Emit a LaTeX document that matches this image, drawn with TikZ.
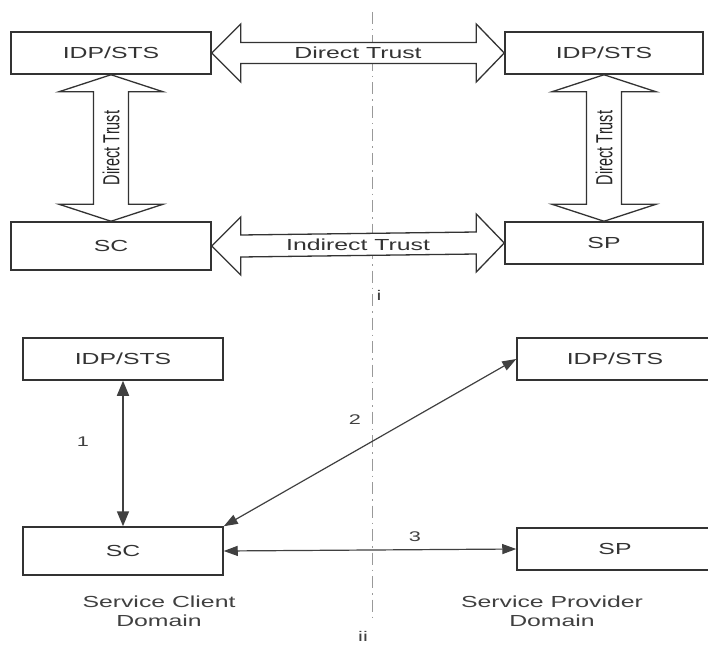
\documentclass[tikz,border=0pt]{standalone}
\usepackage{fontspec}
\setmainfont{Liberation Sans}[FakeStretch=1.55]
\newfontfamily\plainsans{Liberation Sans}
\usetikzlibrary{arrows.meta,calc}
\tikzset{
  box/.style={draw=black!80, line width=1.5pt, fill=white, inner sep=0pt,
    font=\fontsize{16}{18}\selectfont, text=black!80},
  barrow/.style={draw=black!80, line width=1.3pt, fill=white, line join=miter},
  btext/.style={font=\fontsize{16}{18}\selectfont, text=black!80, inner sep=0pt},
  vtext/.style={font=\plainsans\fontsize{14.5}{16}\selectfont, text=black!85, inner sep=0pt, rotate=90},
  num/.style={font=\fontsize{14}{16}\selectfont, text=black!75, inner sep=0pt},
  conn/.style={draw=black!75, line width=1.2pt, {Triangle[length=14pt,width=10pt]}-{Triangle[length=14pt,width=10pt]}},
  divider/.style={draw=black!40, line width=1pt, dash pattern=on 12pt off 5pt on 1.5pt off 5pt}
}
\begin{document}
\begin{tikzpicture}[x=1pt,y=-1pt]
\useasboundingbox (0,0) rectangle (708,647);
\clip (0,0) rectangle (708,647);
\fill[white] (0,0) rectangle (708,647);

% divider
\coordinate (dtop) at (372,12);
\coordinate (dbot) at (372,620);
\draw[divider] (dtop) -- (dbot);

% ---------- part i ----------
\node[box, minimum width=200pt, minimum height=42pt] (idpL) at (111,53) {IDP/STS};
\node[box, minimum width=200pt, minimum height=48pt] (scT) at (111,246) {SC};
\node[box, minimum width=198pt, minimum height=42pt] (idpR) at (604,53) {IDP/STS};
\node[box, minimum width=198pt, minimum height=42pt] (spT) at (604,243) {SP};

% horizontal block arrows
\draw[barrow] let \p1=(idpL.east), \p2=(idpR.west) in
  (\x1,\y1) -- ({\x1+29pt},{\y1+29pt}) -- ({\x1+29pt},{\y1+10.5pt}) -- ({\x2-28pt},{\y2+10.5pt})
  -- ({\x2-28pt},{\y2+29pt}) -- (\x2,\y2) -- ({\x2-28pt},{\y2-29pt}) -- ({\x2-28pt},{\y2-10.5pt})
  -- ({\x1+29pt},{\y1-10.5pt}) -- ({\x1+29pt},{\y1-29pt}) -- cycle;
\path (idpL.east) -- (idpR.west) node[midway, btext] {Direct Trust};

\draw[barrow] let \p1=(scT.east), \p2=(spT.west) in
  (\x1,\y1) -- ({\x1+29pt},{\y1+29pt}) -- ({\x1+29pt},{\y1+11pt}) -- ({\x2-28pt},{\y2+11pt})
  -- ({\x2-28pt},{\y2+29pt}) -- (\x2,\y2) -- ({\x2-28pt},{\y2-29pt}) -- ({\x2-28pt},{\y2-11pt})
  -- ({\x1+29pt},{\y1-11pt}) -- ({\x1+29pt},{\y1-29pt}) -- cycle;
\path (scT.east) -- (spT.west) node[midway, btext] {Indirect Trust};

% vertical block arrows
\draw[barrow] let \p1=(idpL.south), \p2=(scT.north) in
  (\x1,\y1) -- ({\x1+52pt},{\y1-17pt}) -- ({\x1+17.5pt},{\y1-17pt}) -- ({\x2+17.5pt},{\y2+17pt})
  -- ({\x2+52pt},{\y2+17pt}) -- (\x2,\y2) -- ({\x2-52pt},{\y2+17pt}) -- ({\x2-17.5pt},{\y2+17pt})
  -- ({\x1-17.5pt},{\y1-17pt}) -- ({\x1-52pt},{\y1-17pt}) -- cycle;
\path (idpL.south) -- (scT.north) node[midway, vtext] {\scalebox{1}[1.6]{Direct Trust}};

\draw[barrow] let \p1=(idpR.south), \p2=(spT.north) in
  (\x1,\y1) -- ({\x1+52pt},{\y1-17pt}) -- ({\x1+17.5pt},{\y1-17pt}) -- ({\x2+17.5pt},{\y2+17pt})
  -- ({\x2+52pt},{\y2+17pt}) -- (\x2,\y2) -- ({\x2-52pt},{\y2+17pt}) -- ({\x2-17.5pt},{\y2+17pt})
  -- ({\x1-17.5pt},{\y1-17pt}) -- ({\x1-52pt},{\y1-17pt}) -- cycle;
\path (idpR.south) -- (spT.north) node[midway, vtext] {\scalebox{1}[1.6]{Direct Trust}};

\node[num] (li) at (379,295) {i};

% ---------- part ii ----------
\node[box, minimum width=200pt, minimum height=42pt] (idpB) at (123,359) {IDP/STS};
\node[box, minimum width=200pt, minimum height=48pt] (scB) at (123,551) {SC};
\node[box, minimum width=196pt, minimum height=42pt] (idpBR) at (615,359) {IDP/STS};
\node[box, minimum width=196pt, minimum height=42pt] (spB) at (615,549) {SP};

\draw[conn, line width=1.7pt, {Triangle[length=15pt,width=12pt]}-{Triangle[length=15pt,width=12pt]}] (idpB.south) -- (scB.north);
\draw[conn] (scB.north east) -- (idpBR.west);
\draw[conn] (scB.east) -- (spB.west);

\node[num] (n1) at (83,442) {1};
\node[num] (n2) at (355,420) {2};
\node[num] (n3) at (415,537) {3};

\node[btext, align=center, text=black!75] (scd) at (159,611) {Service Client\\[1pt]Domain};
\node[btext, align=center, text=black!75] (spd) at (552,611) {Service Provider\\[1pt]Domain};

\node[num] (lii) at (363,636) {ii};
\end{tikzpicture}
\end{document}
